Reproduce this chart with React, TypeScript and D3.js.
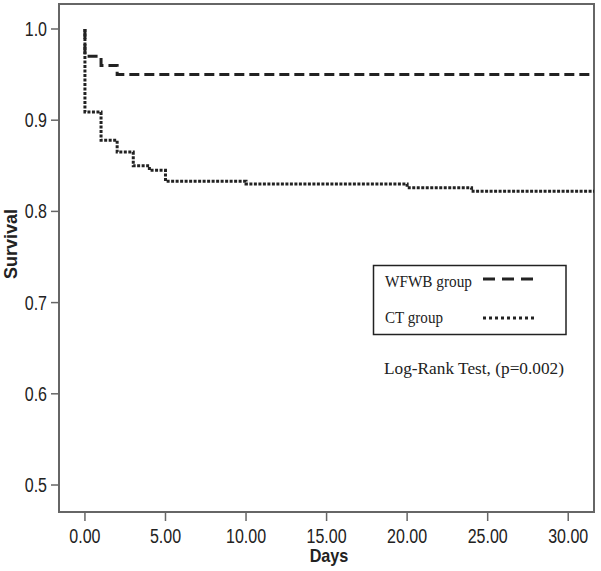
import React from 'react';
import * as d3 from 'd3';

// Kaplan-Meier steps
const wfwbDays = [0, 0, 1, 2, 31.6];
const wfwbSurvival = [1.0, 0.97, 0.96, 0.95, 0.95];
const ctDays = [0, 0, 1, 2, 3, 4, 5, 10, 20, 24, 31.6];
const ctSurvival = [1.0, 0.909, 0.878, 0.865, 0.85, 0.845, 0.833, 0.83, 0.826, 0.822, 0.822];

const xTicks = [0, 5, 10, 15, 20, 25, 30];
const yTicks = [0.5, 0.6, 0.7, 0.8, 0.9, 1.0];
const legendLabels = ['WFWB group', 'CT group'];
const testLabel = 'Log-Rank Test, (p=0.002)';

const width = 601;
const height = 571;
const margin = {left: 59, right: 7, top: 4, bottom: 59};

export default function App() {
  const x = d3.scaleLinear()
    .domain([-1.61, 31.6])
    .range([margin.left, width - margin.right]);
  const y = d3.scaleLinear()
    .domain([0.4704, 1.0274])
    .range([height - margin.bottom, margin.top]);

  const line = d3.line<[number, number]>()
    .x(d => x(d[0]))
    .y(d => y(d[1]))
    .curve(d3.curveStepAfter);

  const wfwb: [number, number][] = wfwbDays.map((d, i) => [d, wfwbSurvival[i]]);
  const ct: [number, number][] = ctDays.map((d, i) => [d, ctSurvival[i]]);

  const axisColor = '#666';
  const inkColor = '#222';
  const sans = '"Liberation Sans", Arial, sans-serif';
  const serif = '"Liberation Serif", "Times New Roman", serif';
  const x0 = margin.left, x1 = width - margin.right;
  const y0 = height - margin.bottom, y1 = margin.top;

  return (
    <svg width={width} height={height} style={{position: 'absolute', left: 0, top: 0}}>
      <rect x={0} y={0} width={width} height={height} fill="#fff"/>
      {/* frame */}
      <rect x={x0} y={y1} width={x1 - x0} height={y0 - y1} fill="none" stroke={axisColor} strokeWidth={2}/>

      {/* y ticks */}
      {yTicks.map(t => (
        <g key={t} transform={`translate(${x0},${y(t)})`}>
          <line x1={-8} x2={0} y1={0} y2={0} stroke={axisColor} strokeWidth={1.5}/>
          <text transform="translate(-12,7) scale(0.8,1)" textAnchor="end" fontFamily={sans} fontSize={20} fill={inkColor}>
            {t.toFixed(1)}
          </text>
        </g>
      ))}

      {/* x ticks */}
      {xTicks.map(t => (
        <g key={t} transform={`translate(${x(t)},${y0})`}>
          <line x1={0} x2={0} y1={0} y2={9} stroke={axisColor} strokeWidth={1.5}/>
          <text transform="translate(0,31) scale(0.8,1)" textAnchor="middle" fontFamily={sans} fontSize={20} fill={inkColor}>
            {t.toFixed(2)}
          </text>
        </g>
      ))}

      <text transform="translate(329,562) scale(0.9,1)" textAnchor="middle" fontFamily={sans} fontWeight="bold" fontSize={18} fill={inkColor}>Days</text>
      <text transform="translate(17,244) rotate(-90)" textAnchor="middle" fontFamily={sans} fontWeight="bold" fontSize={18} fill={inkColor}>Survival</text>

      {/* curves */}
      <path d={line(ct) || ''} fill="none" stroke={inkColor} strokeWidth={3} strokeDasharray="3,1.5"/>
      <path d={line(wfwb) || ''} fill="none" stroke={inkColor} strokeWidth={3} strokeDasharray="10,5"/>

      {/* legend */}
      <rect x={373.5} y={265.5} width={192.5} height={69} fill="#fff" stroke={inkColor} strokeWidth={1.5}/>
      <text x={385} y={287} fontFamily={serif} fontSize={17.5} fill={inkColor} textLength={87} lengthAdjust="spacingAndGlyphs">{legendLabels[0]}</text>
      <line x1={483} x2={538} y1={279} y2={279} stroke={inkColor} strokeWidth={3} strokeDasharray="12,7"/>
      <text x={385} y={323} fontFamily={serif} fontSize={17.5} fill={inkColor} textLength={58} lengthAdjust="spacingAndGlyphs">{legendLabels[1]}</text>
      <line x1={483} x2={537} y1={318} y2={318} stroke={inkColor} strokeWidth={3} strokeDasharray="3,3"/>
      <text x={384} y={374} fontFamily={serif} fontSize={17.5} fill={inkColor} textLength={180} lengthAdjust="spacingAndGlyphs">{testLabel}</text>
    </svg>
  );
}
